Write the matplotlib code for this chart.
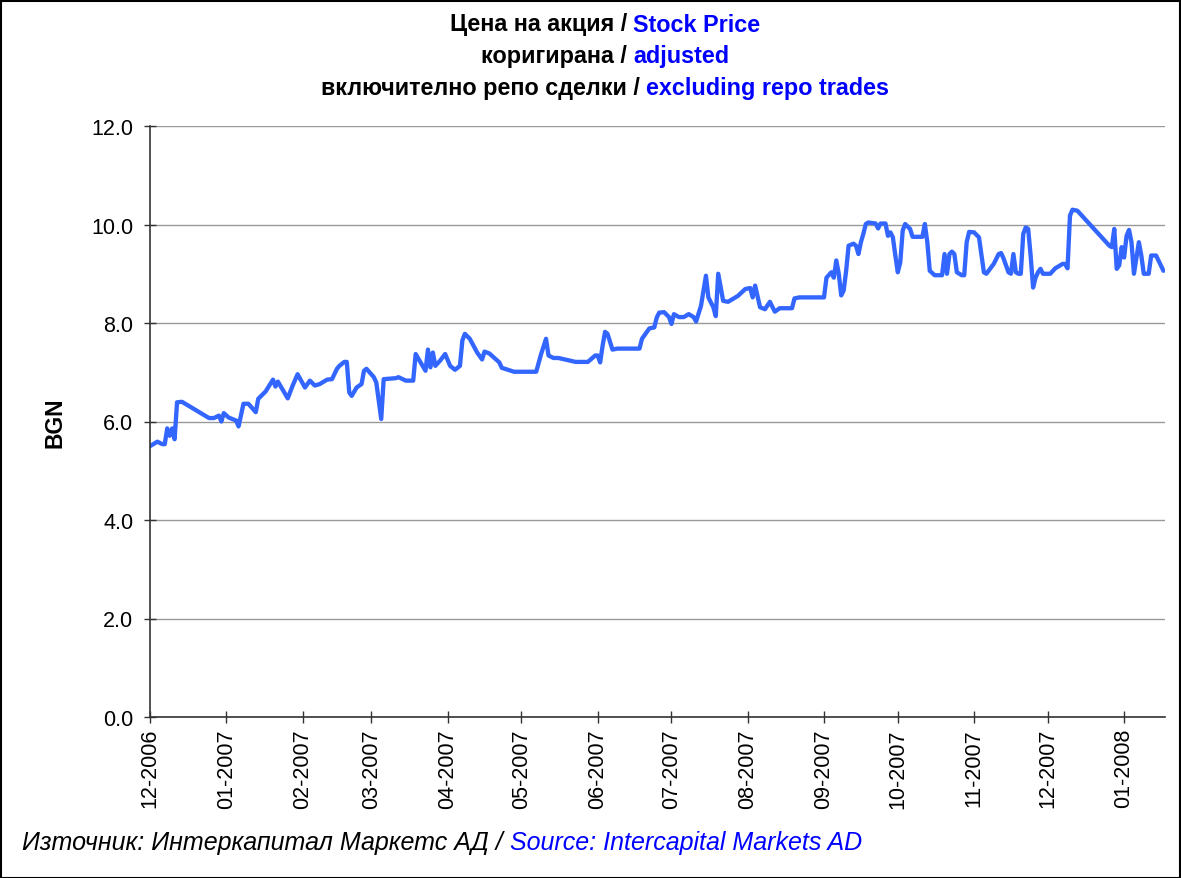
import pandas as pd
import matplotlib
matplotlib.use('Agg')
import matplotlib.pyplot as plt
import matplotlib.dates as mdates
from matplotlib.patches import Rectangle

plt.rcParams['font.family'] = ['Liberation Sans', 'DejaVu Sans']

# дати и цени (BGN), отчетени от графиката
dates = [
    '2006-12-01', '2006-12-04', '2006-12-06', '2006-12-07', '2006-12-08', '2006-12-09',
    '2006-12-10', '2006-12-11', '2006-12-12', '2006-12-14', '2006-12-25', '2006-12-27',
    '2006-12-29', '2006-12-30', '2006-12-31', '2007-01-02', '2007-01-05', '2007-01-06',
    '2007-01-08', '2007-01-10', '2007-01-13', '2007-01-14', '2007-01-17', '2007-01-20',
    '2007-01-21', '2007-01-22', '2007-01-26', '2007-01-28', '2007-01-30', '2007-02-02',
    '2007-02-04', '2007-02-06', '2007-02-08', '2007-02-11', '2007-02-13', '2007-02-15',
    '2007-02-16', '2007-02-18', '2007-02-19', '2007-02-20', '2007-02-21', '2007-02-23',
    '2007-02-25', '2007-02-26', '2007-02-27', '2007-03-02', '2007-03-03', '2007-03-05',
    '2007-03-06', '2007-03-11', '2007-03-12', '2007-03-15', '2007-03-18', '2007-03-19',
    '2007-03-21', '2007-03-23', '2007-03-24', '2007-03-25', '2007-03-26', '2007-03-27',
    '2007-03-29', '2007-03-31', '2007-04-02', '2007-04-04', '2007-04-06', '2007-04-07',
    '2007-04-08', '2007-04-10', '2007-04-13', '2007-04-15', '2007-04-16', '2007-04-18',
    '2007-04-22', '2007-04-23', '2007-04-28', '2007-05-07', '2007-05-09', '2007-05-11',
    '2007-05-12', '2007-05-14', '2007-05-16', '2007-05-23', '2007-05-28', '2007-05-31',
    '2007-06-01', '2007-06-02', '2007-06-03', '2007-06-04', '2007-06-05', '2007-06-07',
    '2007-06-09', '2007-06-18', '2007-06-19', '2007-06-21', '2007-06-22', '2007-06-24',
    '2007-06-25', '2007-06-26', '2007-06-28', '2007-06-30', '2007-07-01', '2007-07-02',
    '2007-07-04', '2007-07-06', '2007-07-08', '2007-07-10', '2007-07-11', '2007-07-13',
    '2007-07-15', '2007-07-16', '2007-07-18', '2007-07-19', '2007-07-20', '2007-07-22',
    '2007-07-24', '2007-07-28', '2007-07-31', '2007-08-02', '2007-08-03', '2007-08-04',
    '2007-08-06', '2007-08-08', '2007-08-10', '2007-08-12', '2007-08-14', '2007-08-19',
    '2007-08-20', '2007-08-22', '2007-09-01', '2007-09-02', '2007-09-04', '2007-09-05',
    '2007-09-06', '2007-09-07', '2007-09-08', '2007-09-09', '2007-09-10', '2007-09-11',
    '2007-09-13', '2007-09-14', '2007-09-15', '2007-09-16', '2007-09-17', '2007-09-18',
    '2007-09-19', '2007-09-22', '2007-09-23', '2007-09-24', '2007-09-26', '2007-09-27',
    '2007-09-28', '2007-09-29', '2007-09-30', '2007-10-01', '2007-10-02', '2007-10-03',
    '2007-10-04', '2007-10-06', '2007-10-07', '2007-10-11', '2007-10-12', '2007-10-13',
    '2007-10-14', '2007-10-16', '2007-10-19', '2007-10-20', '2007-10-21', '2007-10-22',
    '2007-10-23', '2007-10-24', '2007-10-25', '2007-10-27', '2007-10-28', '2007-10-29',
    '2007-10-30', '2007-11-01', '2007-11-03', '2007-11-05', '2007-11-06', '2007-11-09',
    '2007-11-11', '2007-11-12', '2007-11-13', '2007-11-15', '2007-11-16', '2007-11-17',
    '2007-11-18', '2007-11-19', '2007-11-20', '2007-11-21', '2007-11-22', '2007-11-23',
    '2007-11-24', '2007-11-25', '2007-11-26', '2007-11-27', '2007-11-28', '2007-11-29',
    '2007-12-02', '2007-12-04', '2007-12-07', '2007-12-08', '2007-12-09', '2007-12-10',
    '2007-12-11', '2007-12-13', '2007-12-26', '2007-12-27', '2007-12-28', '2007-12-29',
    '2007-12-30', '2007-12-31', '2008-01-01', '2008-01-02', '2008-01-03', '2008-01-04',
    '2008-01-05', '2008-01-07', '2008-01-08', '2008-01-09', '2008-01-11', '2008-01-12',
    '2008-01-14', '2008-01-17',
]
prices = [
    5.50, 5.59, 5.54, 5.54, 5.86, 5.71,
    5.86, 5.64, 6.39, 6.40, 6.07, 6.07,
    6.12, 6.00, 6.17, 6.08, 6.02, 5.90,
    6.36, 6.36, 6.19, 6.46, 6.61, 6.85,
    6.71, 6.81, 6.47, 6.73, 6.96, 6.69,
    6.83, 6.73, 6.76, 6.85, 6.86, 7.07,
    7.13, 7.21, 7.21, 6.59, 6.52, 6.69,
    6.76, 7.03, 7.07, 6.90, 6.79, 6.05,
    6.86, 6.88, 6.90, 6.83, 6.83, 7.37,
    7.20, 7.03, 7.46, 7.10, 7.40, 7.13,
    7.24, 7.37, 7.13, 7.05, 7.13, 7.65,
    7.78, 7.68, 7.40, 7.26, 7.42, 7.38,
    7.20, 7.09, 7.01, 7.01, 7.37, 7.68,
    7.34, 7.29, 7.29, 7.21, 7.21, 7.34,
    7.34, 7.20, 7.54, 7.82, 7.78, 7.46,
    7.48, 7.48, 7.68, 7.82, 7.89, 7.91,
    8.11, 8.21, 8.22, 8.12, 7.98, 8.18,
    8.12, 8.12, 8.18, 8.12, 8.03, 8.35,
    8.96, 8.52, 8.32, 8.14, 9.00, 8.45,
    8.43, 8.55, 8.69, 8.71, 8.52, 8.76,
    8.32, 8.28, 8.43, 8.23, 8.30, 8.30,
    8.50, 8.52, 8.52, 8.92, 9.03, 8.92,
    9.27, 9.00, 8.56, 8.66, 9.06, 9.57,
    9.61, 9.57, 9.40, 9.64, 9.81, 10.01,
    10.04, 10.02, 9.92, 10.02, 10.02, 9.77,
    9.84, 9.74, 9.37, 9.03, 9.23, 9.88,
    10.01, 9.91, 9.75, 9.75, 10.01, 9.64,
    9.06, 8.97, 8.97, 9.40, 9.00, 9.40,
    9.45, 9.40, 9.03, 8.97, 8.97, 9.64,
    9.85, 9.84, 9.74, 9.03, 9.00, 9.20,
    9.40, 9.42, 9.31, 9.03, 9.00, 9.40,
    9.03, 9.00, 9.00, 9.81, 9.94, 9.91,
    9.37, 8.72, 8.92, 9.03, 9.10, 9.00,
    9.00, 9.11, 9.20, 9.20, 9.11, 10.18,
    10.30, 10.28, 9.57, 9.54, 9.91, 9.10,
    9.17, 9.54, 9.33, 9.77, 9.89, 9.64,
    9.00, 9.64, 9.37, 9.00, 9.00, 9.37,
    9.37, 9.06,
]

title_lines = [
    ('Цена на акция', 'Stock Price'),
    ('коригирана', 'adjusted'),
    ('включително репо сделки', 'excluding repo trades'),
]
source_bg = 'Източник: Интеркапитал Маркетс АД'
source_en = 'Source: Intercapital Markets AD'

W, H = 1181, 879
fig = plt.figure(figsize=(W / 100, H / 100), dpi=100)
ax = fig.add_axes([150 / W, 1 - 718 / H, (1165 - 150) / W, (718 - 127) / H])

x = pd.to_datetime(dates)
ax.plot(x, prices, color='#3366FF', lw=3.1, solid_joinstyle='round', solid_capstyle='round')

ax.set_ylim(0, 12)
ax.set_yticks([0, 2, 4, 6, 8, 10, 12])
ax.yaxis.set_major_formatter(plt.FuncFormatter(lambda v, p: f'{v:.1f}'))
ax.set_xlim(pd.Timestamp('2006-12-01'), pd.Timestamp('2008-01-17 15:00'))
ax.xaxis.set_major_locator(mdates.MonthLocator())
ax.xaxis.set_major_formatter(mdates.DateFormatter('%m-%Y'))
ax.grid(axis='y', color='#999999', lw=1)
ax.set_axisbelow(True)
for s in ['top', 'right']:
    ax.spines[s].set_visible(False)
for s in ['left', 'bottom']:
    ax.spines[s].set_color('#333333')
    ax.spines[s].set_linewidth(1.2)
ax.tick_params(direction='inout', length=8, width=1, colors='#333333', labelcolor='black', labelsize=15.5)
ax.tick_params(axis='x', rotation=90, pad=4)
ax.tick_params(axis='y', pad=8)
ax.set_ylabel('BGN', fontsize=16.5, fontweight='bold', labelpad=18)

renderer = fig.canvas.get_renderer()


def two_tone(y, left, right, size, center=None, x0=None, **kw):
    # черна част + синя част на един ред
    t1 = fig.text(0, y, left + ' /', fontsize=size, color='black', va='center', **kw)
    t2 = fig.text(0, y, right, fontsize=size, color='#0000FF', va='center', **kw)
    w1 = t1.get_window_extent(renderer).width / W
    w2 = t2.get_window_extent(renderer).width / W
    gap = size * 100 / 72 * 0.28 / W
    if center is not None:
        x0 = center - (w1 + gap + w2) / 2
    t1.set_x(x0)
    t2.set_x(x0 + w1 + gap)


for i, (bg, en) in enumerate(title_lines):
    two_tone(1 - (25 + 32 * i) / H, bg, en, 16.8, center=605 / W, fontweight='bold')

two_tone(1 - 843 / H, source_bg, source_en, 18, x0=22 / W, fontstyle='italic')

fig.patches.append(Rectangle((0.5 / W, 0.5 / H), 1 - 1.5 / W, 1 - 2.5 / H, transform=fig.transFigure,
                             fill=False, edgecolor='black', lw=1.5))

fig.savefig('out.png', dpi=100)
